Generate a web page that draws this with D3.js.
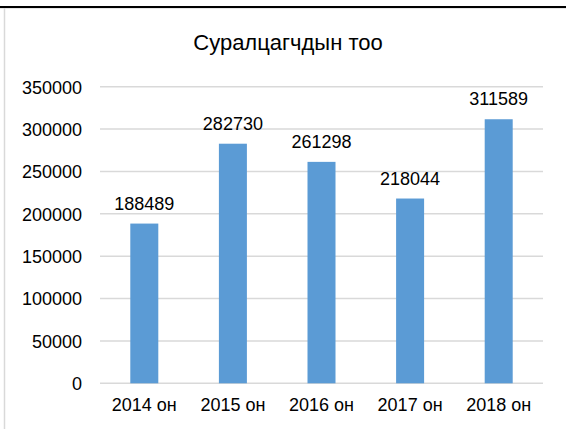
<!DOCTYPE html>
<html><head><meta charset="utf-8">
<script src="https://cdn.jsdelivr.net/npm/d3@7"></script>
<style>body{margin:0;background:#fff}svg{display:block}text{font-family:"Liberation Sans",Arial,sans-serif;fill:#000}</style>
</head><body>
<script>
const categories = ["2014 он","2015 он","2016 он","2017 он","2018 он"];
const values = [188489, 282730, 261298, 218044, 311589];
const yTicks = [0,50000,100000,150000,200000,250000,300000,350000];
const title = "Суралцагчдын тоо";

const W = 566, H = 429;
const svg = d3.select("body").append("svg").attr("width", W).attr("height", H);

// frame
svg.append("line").attr("x1",0).attr("x2",W).attr("y1",7).attr("y2",7).attr("stroke","#000").attr("stroke-width",2);
svg.append("line").attr("x1",0).attr("x2",W).attr("y1",8.5).attr("y2",8.5).attr("stroke","#e6e6e6").attr("stroke-width",1);
svg.append("line").attr("x1",4.5).attr("x2",4.5).attr("y1",8).attr("y2",H).attr("stroke","#d9d9d9").attr("stroke-width",1.5);

const x = d3.scaleBand().domain(categories).range([100, 543]).paddingInner(0).paddingOuter(0);
const y = d3.scaleLinear().domain([0, 350000]).range([383.3, 86.7]);

// gridlines
svg.append("g").selectAll("line").data(yTicks).join("line")
  .attr("x1",100).attr("x2",543)
  .attr("y1",d=>y(d)).attr("y2",d=>y(d))
  .attr("stroke","#d9d9d9").attr("stroke-width",1.5);

// y axis labels
const yAxis = d3.axisLeft(y).tickValues(yTicks).tickSize(0).tickPadding(0).tickFormat(d3.format("d"));
const gy = svg.append("g").attr("transform","translate(82,0)").call(yAxis);
gy.select(".domain").remove();
gy.selectAll("text").attr("font-size",18).attr("font-family","Liberation Sans, Arial, sans-serif").attr("fill","#000").attr("dy","0.35em");

// x axis labels
const xAxis = d3.axisBottom(x).tickSize(0).tickPadding(0);
const gx = svg.append("g").attr("transform","translate(0,398)").call(xAxis);
gx.select(".domain").remove();
gx.selectAll("text").attr("font-size",18).attr("font-family","Liberation Sans, Arial, sans-serif").attr("fill","#000").attr("dy","0.71em");

// bars
const bw = 28;
svg.append("g").selectAll("rect").data(values).join("rect")
  .attr("x",(d,i)=>x(categories[i]) + x.bandwidth()/2 - bw/2)
  .attr("width",bw)
  .attr("y",d=>y(d))
  .attr("height",d=>y(0)-y(d))
  .attr("fill","#5B9BD5");

// value labels
svg.append("g").selectAll("text").data(values).join("text")
  .attr("x",(d,i)=>x(categories[i]) + x.bandwidth()/2)
  .attr("y",d=>y(d)-14)
  .attr("text-anchor","middle")
  .attr("font-size",18)
  .text(d=>d);

// title
svg.append("text").attr("x",288).attr("y",50).attr("text-anchor","middle").attr("font-size",22).text(title);
</script>
</body></html>
